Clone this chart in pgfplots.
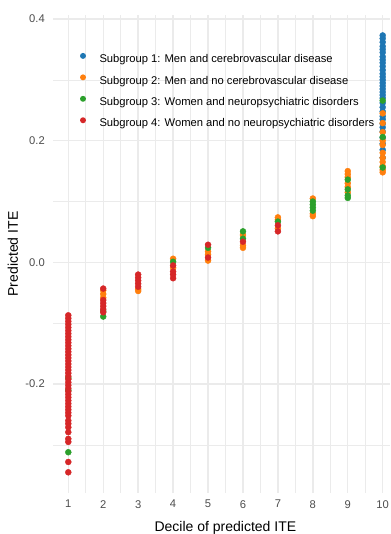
\documentclass[border=0pt]{standalone}
\usepackage{fontspec}
\setmainfont{Liberation Sans}
\usepackage{pgfplots}
\pgfplotsset{compat=1.18}
\definecolor{cA}{RGB}{31,119,180}
\definecolor{cB}{RGB}{255,127,14}
\definecolor{cC}{RGB}{44,160,44}
\definecolor{cD}{RGB}{214,39,40}
\definecolor{gridc}{RGB}{235,235,235}
\definecolor{tickc}{RGB}{77,77,77}
\begin{document}
\begin{tikzpicture}
\path[use as bounding box] (-53.3pt,-41pt) rectangle (336.7pt,493pt);
\begin{axis}[
  at={(0pt,0pt)}, anchor=south west,
  scale only axis, width=336.7pt, height=478pt,
  xmin=0.5706, xmax=10.209, ymin=-0.379, ymax=0.4066,
  xtick={1,2,3,4,5,6,7,8,9,10},
  xticklabels={1,2,3,4,5,6,7,8,9,10},
  minor xtick={1.5,2.5,3.5,4.5,5.5,6.5,7.5,8.5,9.5},
  ytick={-0.2,0,0.2,0.4},
  yticklabels={-0.2,0.0,0.2,0.4},
  minor ytick={-0.3,-0.1,0.1,0.3},
  grid=both,
  major grid style={draw=gridc, line width=1.4pt},
  minor grid style={draw=gridc, line width=0.7pt},
  axis line style={draw=none},
  major tick length=0pt, minor tick length=0pt,
  tick label style={font=\fontsize{11.2}{13}\selectfont, text=tickc, inner sep=0pt},
  xticklabel style={anchor=north, yshift=-7pt},
  yticklabel style={anchor=east, xshift=-8.3pt},
  xlabel={Decile of predicted ITE},
  ylabel={Predicted ITE},
  every axis x label/.style={at={(axis description cs:0.511,-0.0795)}, anchor=base, font=\fontsize{14}{16}\selectfont},
  every axis y label/.style={at={(axis description cs:-0.105,0.5)}, rotate=90, anchor=base, font=\fontsize{14}{16}\selectfont},
  legend cell align=left,
  legend image code/.code={\fill[#1] (3pt,3.8pt) circle (3pt);},
  legend style={at={(axis description cs:0.0793,0.9207)}, anchor=north west,
    draw=none, fill=none, inner sep=0pt, outer sep=0pt,
    font=\fontsize{11.2}{13}\selectfont, row sep=9.4pt,
    nodes={inner sep=0pt, text height=8.1pt, text depth=2.4pt},
    column sep=13.5pt},
]
\addplot[only marks, mark=*, mark size=3pt, color=cA, draw=none, fill=cA] coordinates {
(10,0.373)(10,0.368)(10,0.362)(10,0.355)(10,0.350)(10,0.345)(10,0.338)(10,0.333)
(10,0.328)(10,0.322)(10,0.316)(10,0.310)(10,0.305)(10,0.300)(10,0.295)(10,0.290)
(10,0.285)(10,0.280)(10,0.275)(10,0.270)(10,0.262)(10,0.255)(10,0.248)(10,0.240)
(10,0.235)(10,0.228)(10,0.222)(10,0.215)(10,0.205)(10,0.195)(10,0.185)(10,0.172)
};
\addlegendentry{Subgroup 1: Men and cerebrovascular disease}
\addplot[only marks, mark=*, mark size=3pt, color=cB, draw=none, fill=cB] coordinates {
(2,-0.046)(2,-0.052)(2,-0.058)
(3,-0.044)(3,-0.047)
(4,0.006)(4,-0.009)
(5,0.018)(5,0.013)(5,0.003)
(6,0.045)(6,0.028)(6,0.024)
(7,0.074)(7,0.070)(7,0.056)
(8,0.105)(8,0.080)(8,0.076)
(9,0.150)(9,0.145)(9,0.140)(9,0.130)(9,0.124)(9,0.115)
(10,0.245)(10,0.229)(10,0.214)(10,0.200)(10,0.193)(10,0.180)(10,0.172)(10,0.165)
(10,0.158)(10,0.152)(10,0.148)
};
\addlegendentry{Subgroup 2: Men and no cerebrovascular disease}
\addplot[only marks, mark=*, mark size=3pt, color=cC, draw=none, fill=cC] coordinates {
(1,-0.190)(1,-0.210)(1,-0.312)
(2,-0.080)(2,-0.089)
(4,0.001)
(5,0.024)
(6,0.051)(6,0.039)
(7,0.067)
(8,0.100)(8,0.095)(8,0.090)(8,0.085)
(9,0.136)(9,0.120)(9,0.110)(9,0.106)
(10,0.266)(10,0.206)(10,0.156)
};
\addlegendentry{Subgroup 3: Women and neuropsychiatric disorders}
\addplot[only marks, mark=*, mark size=3pt, color=cD, draw=none, fill=cD] coordinates {
(1,-0.087)(1,-0.092)(1,-0.097)(1,-0.102)(1,-0.107)(1,-0.112)(1,-0.117)(1,-0.122)
(1,-0.127)(1,-0.132)(1,-0.137)(1,-0.142)(1,-0.147)(1,-0.152)(1,-0.157)(1,-0.162)
(1,-0.167)(1,-0.172)(1,-0.177)(1,-0.182)(1,-0.187)(1,-0.192)(1,-0.197)(1,-0.202)
(1,-0.207)(1,-0.212)(1,-0.217)(1,-0.222)(1,-0.227)(1,-0.232)(1,-0.237)(1,-0.242)
(1,-0.247)(1,-0.252)(1,-0.260)(1,-0.265)(1,-0.271)(1,-0.279)(1,-0.290)(1,-0.295)
(1,-0.328)(1,-0.345)
(2,-0.043)(2,-0.062)(2,-0.067)(2,-0.072)(2,-0.077)(2,-0.082)
(3,-0.020)(3,-0.025)(3,-0.030)(3,-0.035)(3,-0.040)
(4,-0.005)(4,-0.015)(4,-0.020)(4,-0.026)
(5,0.029)(5,0.008)
(6,0.034)
(7,0.061)(7,0.051)
};
\addlegendentry{Subgroup 4: Women and no neuropsychiatric disorders}
\end{axis}
\end{tikzpicture}
\end{document}
